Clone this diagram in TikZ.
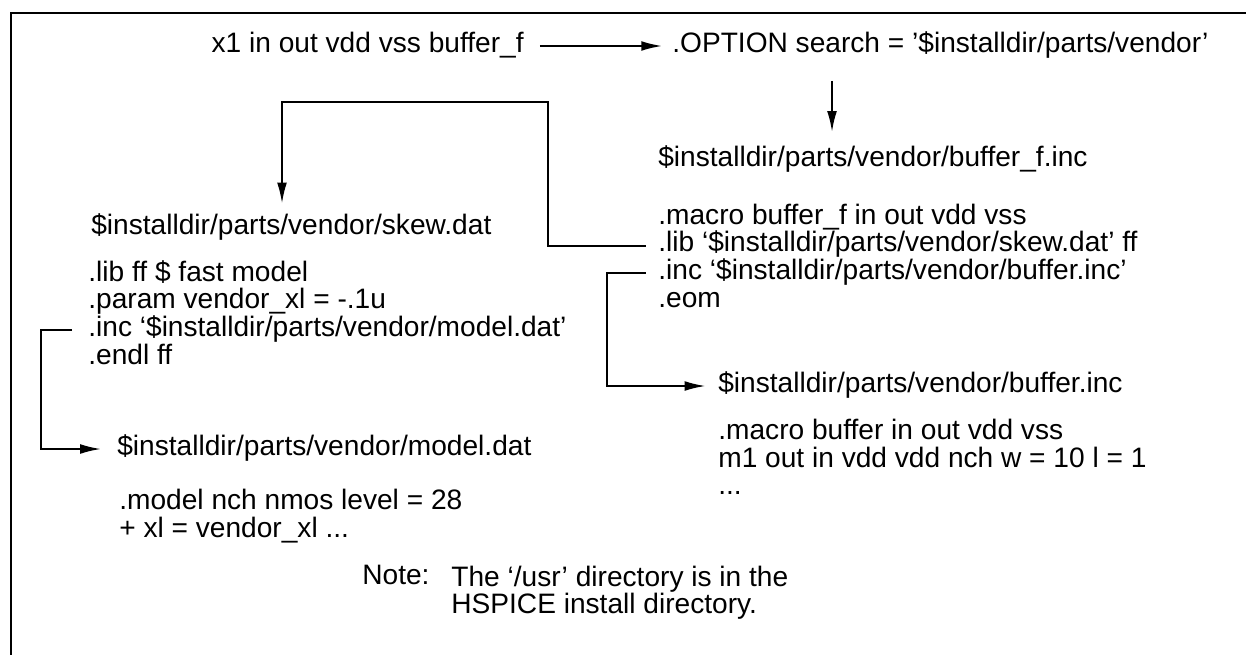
\documentclass[tikz,border=0pt]{standalone}
\usepackage{fontspec}
\setmainfont{Liberation Sans}
\usetikzlibrary{arrows.meta, positioning}

\tikzset{
  txt/.style={inner sep=0pt, anchor=west, font=\fontsize{16}{15.3}\selectfont,
    text height=11.3pt, text depth=4pt},
  nextline/.style={below right=0pt and 0pt of #1.south west},
  link/.style={line width=1.2pt, -{Latex[length=12pt, width=5.6pt]}},
  frame/.style={line width=1.7pt}
}

\begin{document}
\begin{tikzpicture}[x=0.02cm, y=-0.02cm]
    \useasboundingbox (0,0) rectangle (1246,655);
    \draw[frame] (11,655) -- (11,13) -- (1246,13);

    % call and search path
    \node[txt, anchor=east] (inst) at (524,46) {x1 in out vdd vss buffer\_f};
    \node[txt] (opt) at (672,46) {.OPTION search = ’\$installdir/parts/vendor’};

    % buffer_f.inc
    \node[txt] (bfhead) at (658,160) {\$installdir/parts/vendor/buffer\_f.inc};
    \node[txt] (bfmac) at (658,218) {.macro buffer\_f in out vdd vss};
    \node[txt, nextline=bfmac] (bflib) {.lib ‘\$installdir/parts/vendor/skew.dat’ ff};
    \node[txt, nextline=bflib] (bfinc) {.inc ‘\$installdir/parts/vendor/buffer.inc’};
    \node[txt, nextline=bfinc] (bfeom) {.eom};

    % skew.dat
    \node[txt] (skewhead) at (91,228) {\$installdir/parts/vendor/skew.dat};
    \node[txt] (skewlib) at (88,275) {.lib ff \$ fast model};
    \node[txt, nextline=skewlib] (skewpar) {.param vendor\_xl = -.1u};
    \node[txt, nextline=skewpar] (skewinc) {.inc ‘\$installdir/parts/vendor/model.dat’};
    \node[txt, nextline=skewinc] (skewend) {.endl ff};

    % buffer.inc
    \node[txt] (bufhead) at (718,386) {\$installdir/parts/vendor/buffer.inc};
    \node[txt] (bufmac) at (718,433) {.macro buffer in out vdd vss};
    \node[txt, nextline=bufmac] (bufm1) {m1 out in vdd vdd nch w = 10 l = 1};
    \node[txt, nextline=bufm1] (bufdots) {...};

    % model.dat
    \node[txt] (modhead) at (117,449) {\$installdir/parts/vendor/model.dat};
    \node[txt] (modnch) at (119,503) {.model nch nmos level = 28};
    \node[txt, nextline=modnch] (modxl) {+ xl = vendor\_xl ...};

    % note
    \node[txt] (notelbl) at (362,578) {Note:};
    \node[txt, anchor=north west, align=left, font=\fontsize{16}{15.3}\selectfont,
      text height=, text depth=] (notetxt) at (451,566)
      {The ‘/usr’ directory is in the\\HSPICE install directory.};

    % bend points
    \coordinate (down1) at (832,0);
    \coordinate (bendA) at (548,102);
    \coordinate (bendB) at (282,102);
    \coordinate (bendC) at (607,0);
    \coordinate (bendD) at (41,0);

    \draw[link] ([xshift=9pt]inst.east) -- ([xshift=-5.5pt]opt.west);
    \draw[link] ([yshift=-12pt]opt.south -| down1) -- ([yshift=8pt]bfhead.north -| down1);
    \draw[link] ([xshift=-7pt]bflib.west) -| (bendA) -- (bendB)
      -- ([yshift=6pt]skewhead.north -| bendB);
    \draw[link] ([xshift=-7pt]bfinc.west) -| (bendC |- bufhead.west)
      -- ([xshift=-7pt]bufhead.west);
    \draw[link] ([xshift=-9pt]skewinc.west) -| (bendD |- modhead.west)
      -- ([xshift=-9pt]modhead.west);
\end{tikzpicture}
\end{document}
